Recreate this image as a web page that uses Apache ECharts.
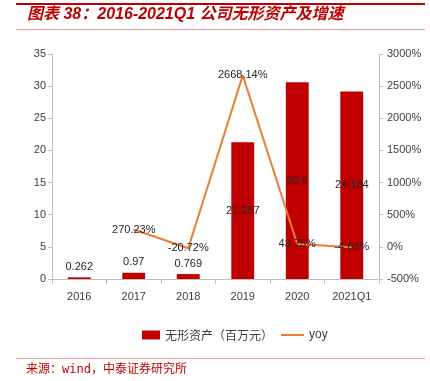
<!DOCTYPE html>
<html><head><meta charset="utf-8">
<script src="https://cdn.jsdelivr.net/npm/echarts@6/dist/echarts.min.js"></script>
<style>html,body{margin:0;padding:0;background:#fff}#c{width:430px;height:381px}</style>
</head><body><div id="c"></div>
<script>
const categories = ['2016','2017','2018','2019','2020','2021Q1'];
const assetValues = [0.262, 0.97, 0.769, 21.287, 30.6, 29.184];
const yoyValues = [null, 270.23, -20.72, 2668.14, 43.75, -4.63];
const barName = '无形资产（百万元）';
const lineName = 'yoy';
const titleText = '图表 38：2016-2021Q1 公司无形资产及增速';
const sourceText = '来源：wind，中泰证券研究所';

const font = "'Liberation Sans',Arial,sans-serif";
const txt = '#404040';
const chart = echarts.init(document.getElementById('c'));
chart.setOption({
  animation: false,
  textStyle: {fontFamily: font},
  grid: {left: 52, right: 51, top: 54, bottom: 102},
  graphic: [
    {type:'rect', shape:{x:16,y:3,width:409,height:2}, style:{fill:'#C00000'}},
    {type:'text', left: 27, top: 7, style:{text:titleText, fill:'#C00000', font:"italic bold 16px 'Liberation Sans','Noto Sans CJK SC',sans-serif"}},
    {type:'rect', shape:{x:16,y:29,width:409,height:1}, style:{fill:'#F2A0A0'}},
    {type:'rect', shape:{x:16,y:358,width:409,height:1}, style:{fill:'#F2A0A0'}},
    {type:'text', left: 26, top: 364, style:{text:sourceText, fill:'#C00000', font:"12px 'DejaVu Sans Mono','Noto Sans CJK SC',monospace"}}
  ],
  legend: [
    {left: 137, top: 324, itemWidth: 18, itemHeight: 9, data:[{name: barName, icon:'rect'}],
     textStyle:{color:txt, fontSize:12, fontFamily:"'Noto Sans CJK SC',sans-serif"}, itemGap: 8},
    {left: 276, top: 324, itemWidth: 23, itemHeight: 2, data:[{name: lineName, icon:'rect'}],
     textStyle:{color:txt, fontSize:12, fontFamily:font}, itemGap: 2}
  ],
  xAxis: {
    type:'category', data: categories,
    axisLine:{lineStyle:{color:'#BFBFBF'}},
    axisTick:{show:true, length:5, lineStyle:{color:'#BFBFBF'}},
    axisLabel:{color:txt, fontSize:11, margin:12, interval:0}
  },
  yAxis: [
    {type:'value', min:0, max:35, interval:5, splitLine:{show:false},
     axisLine:{show:true, lineStyle:{color:'#BFBFBF'}},
     axisTick:{show:true, length:4, lineStyle:{color:'#BFBFBF'}},
     axisLabel:{color:txt, fontSize:11, margin:6}},
    {type:'value', min:-500, max:3000, interval:500, splitLine:{show:false},
     axisLine:{show:true, lineStyle:{color:'#BFBFBF'}},
     axisTick:{show:true, length:4, lineStyle:{color:'#BFBFBF'}},
     axisLabel:{color:txt, fontSize:11, margin:8, formatter: v => v + '%'}}
  ],
  series: [
    {name: barName, type:'bar', barWidth:'42%', itemStyle:{color:'#C00000'},
     data: assetValues.map(v => ({value:v, label:{show:true, position: v > 10 ? 'inside' : 'top',
       color:'#262626', fontSize:11, fontFamily:font}}))},
    {name: lineName, type:'line', yAxisIndex:1, data: yoyValues, connectNulls:false,
     symbol:'circle', symbolSize:1, showSymbol:true,
     lineStyle:{color:'#ED7D31', width:2}, itemStyle:{color:'#ED7D31'},
     label:{show:true, position:'inside', color:'#262626', fontSize:11, fontFamily:font,
       formatter: p => p.value == null ? '' : p.value.toFixed(2) + '%'}}
  ]
});
</script></body></html>
